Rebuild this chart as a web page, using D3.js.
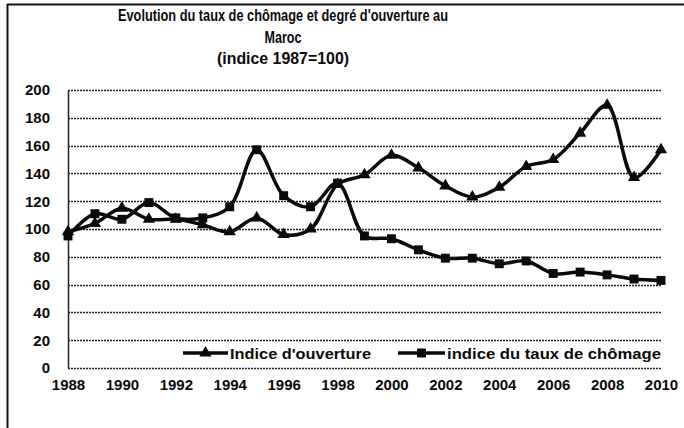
<!DOCTYPE html>
<html>
<head>
<meta charset="utf-8">
<script src="https://cdn.jsdelivr.net/npm/d3@7"></script>
<style>
  html, body { margin: 0; padding: 0; background: #fff; }
  svg { display: block; font-family: "Liberation Sans", Arial, sans-serif; }
</style>
</head>
<body>
<svg id="chart" width="684" height="428"></svg>
<script>
// Years covered by the series
const years = [1988, 1989, 1990, 1991, 1992, 1993, 1994, 1995, 1996, 1997, 1998, 1999,
               2000, 2001, 2002, 2003, 2004, 2005, 2006, 2007, 2008, 2009, 2010];
// Indice d'ouverture (1987 = 100)
const ouverture = [98, 104, 115, 107, 107, 103, 98, 108, 96, 100, 132, 139,
                   153, 144, 131, 123, 130, 145, 150, 169, 189, 137, 157];
// Indice du taux de chômage (1987 = 100)
const chomage = [95, 111, 107, 119, 108, 108, 116, 157, 124, 116, 133, 95,
                 93, 85, 79, 79, 75, 77, 68, 69, 67, 64, 63];
// Axis ticks
const yTicks = [0, 20, 40, 60, 80, 100, 120, 140, 160, 180, 200];
const xTicks = [1988, 1990, 1992, 1994, 1996, 1998, 2000, 2002, 2004, 2006, 2008, 2010];
const titleLines = ["Evolution du taux de chômage et degré d'ouverture au", "Maroc", "(indice 1987=100)"];
const seriesNames = ["Indice d'ouverture", "indice du taux de chômage"];

const svg = d3.select("#chart");
const plot = { left: 68, right: 661, top: 90, bottom: 368 };

const x = d3.scaleLinear().domain([1988, 2010]).range([plot.left, plot.right]);
const y = d3.scaleLinear().domain([0, 200]).range([plot.bottom, plot.top]);

const ink = "#0a0a0a";
const font = "'Liberation Sans', Arial, sans-serif";

// Frame lines (left and top)
svg.append("line").attr("x1", 7.5).attr("x2", 7.5).attr("y1", 4).attr("y2", 428)
  .attr("stroke", "#111").attr("stroke-width", 2);
svg.append("line").attr("x1", 7).attr("x2", 684).attr("y1", 4.5).attr("y2", 4.5)
  .attr("stroke", "#111").attr("stroke-width", 2);

// Title (condensed bold)
const titleWidths = [330, 37, 132];
svg.append("g").selectAll("text").data(titleLines).join("text")
  .attr("x", 283)
  .attr("y", (d, i) => 21 + i * 21.5)
  .attr("text-anchor", "middle")
  .attr("font-size", 17)
  .attr("font-weight", "bold")
  .attr("fill", ink)
  .attr("textLength", (d, i) => titleWidths[i])
  .attr("lengthAdjust", "spacingAndGlyphs")
  .text(d => d);

// Horizontal gridlines
svg.append("g").selectAll("line").data(yTicks).join("line")
  .attr("x1", plot.left).attr("x2", plot.right)
  .attr("y1", d => Math.round(y(d)) + 0.5).attr("y2", d => Math.round(y(d)) + 0.5)
  .attr("stroke", "#222").attr("stroke-width", 1.3)
  .attr("stroke-dasharray", "2,1");

// Y axis
const yAxis = svg.append("g")
  .attr("transform", `translate(${plot.left},0)`)
  .call(d3.axisLeft(y).tickValues(yTicks).tickSize(0).tickPadding(18));
yAxis.select(".domain").attr("stroke", "#222").attr("stroke-width", 1.5);
yAxis.selectAll("text")
  .attr("font-size", 15).attr("font-weight", "bold").attr("fill", ink)
  .attr("font-family", font);

// X axis
const xAxis = svg.append("g")
  .attr("transform", `translate(0,${plot.bottom})`)
  .call(d3.axisBottom(x).tickValues(xTicks).tickFormat(d3.format("d")).tickSize(0).tickPadding(11));
xAxis.select(".domain").remove();
xAxis.selectAll("text")
  .attr("font-size", 15).attr("font-weight", "bold").attr("fill", ink)
  .attr("font-family", font);

// Smoothed lines
const line = d3.line()
  .x((d, i) => x(years[i]))
  .y(d => y(d))
  .curve(d3.curveCatmullRom.alpha(0.5));

const triangle = d3.symbol().type(d3.symbolTriangle).size(65);
const square = d3.symbol().type(d3.symbolSquare).size(80);

function drawSeries(values, sym) {
  const g = svg.append("g");
  g.append("path").datum(values)
    .attr("d", line)
    .attr("fill", "none")
    .attr("stroke", ink)
    .attr("stroke-width", 3.5)
    .attr("stroke-linejoin", "round");
  g.selectAll("path.m").data(values).join("path")
    .attr("class", "m")
    .attr("d", sym)
    .attr("transform", (d, i) => `translate(${x(years[i])},${y(d)})`)
    .attr("fill", ink);
}
drawSeries(ouverture, triangle);
drawSeries(chomage, square);

// Legend
const legendItems = [
  { name: seriesNames[0], sym: triangle, x0: 183, x1: 228, tx: 230, len: 141 },
  { name: seriesNames[1], sym: square, x0: 398, x1: 445, tx: 447, len: 214 }
];
const ly = 353;
const lg = svg.append("g");
legendItems.forEach(it => {
  lg.append("line").attr("x1", it.x0).attr("x2", it.x1).attr("y1", ly).attr("y2", ly)
    .attr("stroke", ink).attr("stroke-width", 3.5);
  lg.append("path").attr("d", it.sym)
    .attr("transform", `translate(${(it.x0 + it.x1) / 2},${ly})`)
    .attr("fill", ink);
  lg.append("text").attr("x", it.tx).attr("y", ly + 5.5)
    .attr("font-size", 15).attr("font-weight", "bold").attr("fill", ink)
    .attr("textLength", it.len).attr("lengthAdjust", "spacingAndGlyphs")
    .text(it.name);
});
</script>
</body>
</html>
